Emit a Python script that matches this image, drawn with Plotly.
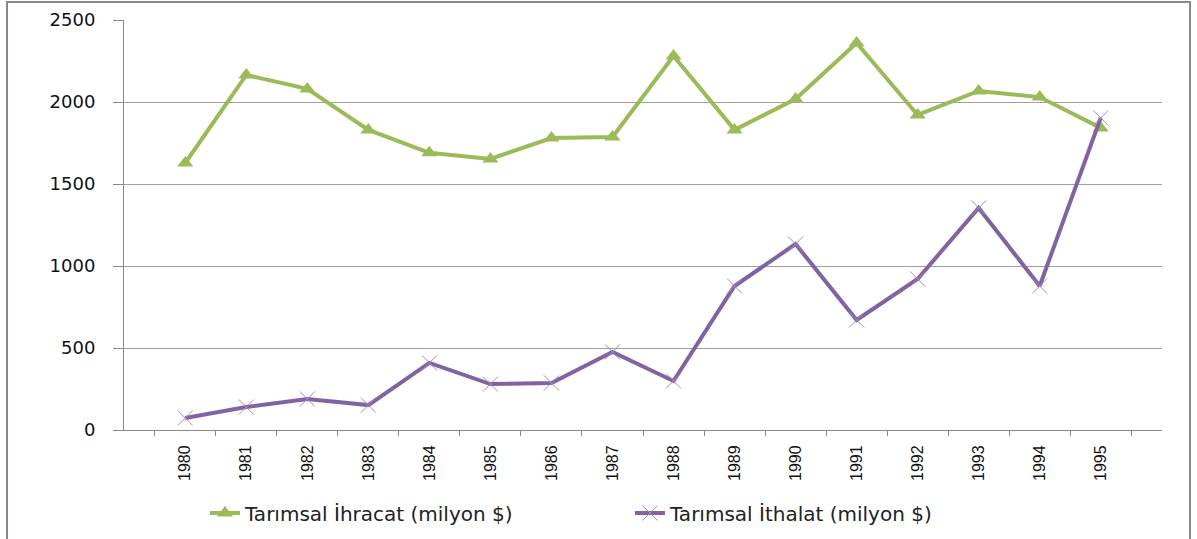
import plotly.graph_objects as go

years = [str(y) for y in range(1980, 1996)]
ihracat = [1628, 2165, 2080, 1830, 1690, 1653, 1780, 1787, 2280, 1830, 2018, 2360, 1921, 2067, 2030, 1842]
ithalat = [73, 140, 189, 152, 409, 280, 287, 476, 299, 878, 1134, 671, 921, 1354, 878, 1903]
y_ticks = [0, 500, 1000, 1500, 2000, 2500]

fig = go.Figure()
fig.add_trace(go.Scatter(
    x=years, y=ihracat, mode="lines+markers", name="Tarımsal İhracat (milyon $)",
    line=dict(color="#9BBB59", width=4),
    marker=dict(symbol="triangle-up", size=14, color="#9BBB59"),
))
fig.add_trace(go.Scatter(
    x=years, y=ithalat, mode="lines+markers", name="Tarımsal İthalat (milyon $)",
    line=dict(color="#8064A2", width=4),
    marker=dict(symbol="x-thin", size=15, line=dict(color="#A08CC0", width=1)),
))

fig.update_layout(
    width=1197, height=539,
    margin=dict(l=124, r=35, t=20, b=109, autoexpand=False),
    plot_bgcolor="white", paper_bgcolor="white",
    font=dict(family="DejaVu Sans, sans-serif", size=18, color="#222"),
    showlegend=True,
    legend=dict(orientation="h", x=0.078, xanchor="left", y=-0.2024, yanchor="middle",
                font=dict(family="DejaVu Sans, sans-serif", size=20, color="#222"),
                entrywidth=380, entrywidthmode="pixels", tracegroupgap=0),
    xaxis=dict(
        type="category", tickangle=-90, showgrid=False, automargin=False,
        showline=True, linecolor="#888", linewidth=1,
        ticks="outside", ticklen=5, tickcolor="#888", tickson="boundaries",
        ticklabelstandoff=8,
        tickfont=dict(family="Liberation Sans Narrow, Liberation Sans, sans-serif", size=16, color="#111"),
    ),
    yaxis=dict(
        range=[0, 2500], tickvals=y_ticks, showgrid=True, gridcolor="#A0A0A0", gridwidth=1,
        showline=True, linecolor="#888", linewidth=1, zeroline=False, automargin=False,
        ticks="outside", ticklen=10, tickcolor="#888", ticklabelstandoff=14,
        tickfont=dict(family="DejaVu Sans, sans-serif", size=18, color="#111"),
    ),
)
fig.add_shape(type="rect", xref="paper", yref="paper", x0=-0.1127, x1=1.027, y0=-0.35, y1=1.044,
              line=dict(color="#888", width=2), fillcolor="rgba(0,0,0,0)")

fig.write_html("out.html", config={"displayModeBar": False},
               post_script="document.body.style.margin='0';")
